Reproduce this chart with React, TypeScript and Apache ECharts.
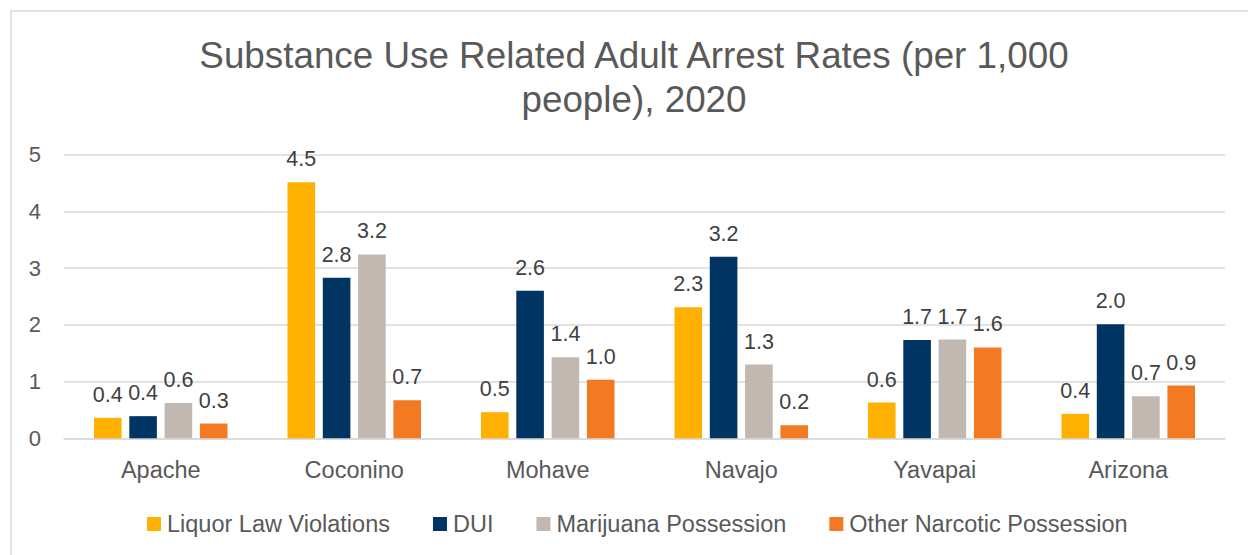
import React, { useEffect, useRef } from "react";
import * as echarts from "echarts";

const categories = ["Apache", "Coconino", "Mohave", "Navajo", "Yavapai", "Arizona"];
const seriesNames = ["Liquor Law Violations", "DUI", "Marijuana Possession", "Other Narcotic Possession"];
const liquor = [0.36, 4.51, 0.46, 2.31, 0.63, 0.43];
const dui = [0.39, 2.83, 2.6, 3.2, 1.73, 2.01];
const marijuana = [0.62, 3.24, 1.43, 1.3, 1.74, 0.74];
const otherNarcotic = [0.26, 0.67, 1.03, 0.23, 1.6, 0.93];
const colors = ["#FFB000", "#003462", "#C2B8B2", "#F37A23"];
const titleLines = ["Substance Use Related Adult Arrest Rates (per 1,000", "people), 2020"];

const FONT = "'Liberation Sans', Arial, sans-serif";

export default function App() {
  const ref = useRef<HTMLDivElement>(null);
  useEffect(() => {
    if (!ref.current) return;
    const chart = echarts.init(ref.current, null, { renderer: "svg" });
    const allData = [liquor, dui, marijuana, otherNarcotic];
    chart.setOption({
      animation: false,
      textStyle: { fontFamily: FONT },
      graphic: [
        {
          type: "rect",
          shape: { x: 11, y: 11, width: 1400, height: 700 },
          style: { fill: "none", stroke: "#D9D9D9", lineWidth: 1.5 },
          silent: true,
        },
        {
          type: "text",
          x: 634,
          y: 55,
          style: {
            text: titleLines[0],
            fill: "#595959",
            font: `36.8px ${FONT}`,
            textAlign: "center",
            textVerticalAlign: "middle",
          },
        },
        {
          type: "text",
          x: 634,
          y: 99,
          style: {
            text: titleLines[1],
            fill: "#595959",
            font: `36.8px ${FONT}`,
            textAlign: "center",
            textVerticalAlign: "middle",
          },
        },
      ],
      legend: {
        data: seriesNames,
        left: 147,
        top: 512,
        padding: 0,
        itemWidth: 14,
        itemHeight: 14,
        itemGap: 43,
        icon: "rect",
        textStyle: { color: "#595959", fontSize: 23.5, fontFamily: FONT, padding: [0, 0, 0, 1] },
      },
      grid: { left: 64, right: 23, top: 154.5, bottom: 116.7, containLabel: false },
      xAxis: {
        type: "category",
        data: categories,
        axisTick: { show: false },
        axisLine: { lineStyle: { color: "#D9D9D9", width: 1.5 } },
        axisLabel: { color: "#595959", fontSize: 23.5, fontFamily: FONT, margin: 20 },
      },
      yAxis: {
        type: "value",
        min: 0,
        max: 5,
        interval: 1,
        axisLine: { show: false },
        axisTick: { show: false },
        splitLine: { lineStyle: { color: "#D9D9D9", width: 1.5 } },
        axisLabel: { color: "#595959", fontSize: 22, fontFamily: FONT, margin: 23 },
      },
      series: seriesNames.map((name, i) => ({
        name,
        type: "bar",
        data: allData[i],
        barCategoryGap: "31%",
        barGap: "28%",
        itemStyle: { color: colors[i] },
        label: {
          show: true,
          position: "top",
          distance: 12,
          color: "#404040",
          fontSize: 21.5,
          fontFamily: FONT,
          formatter: (p: any) => Number(p.value).toFixed(1),
        },
      })),
    });
    return () => chart.dispose();
  }, []);
  return (
    <div
      ref={ref}
      style={{ position: "absolute", left: 0, top: 0, width: 1248, height: 555, background: "#fff" }}
    />
  );
}
